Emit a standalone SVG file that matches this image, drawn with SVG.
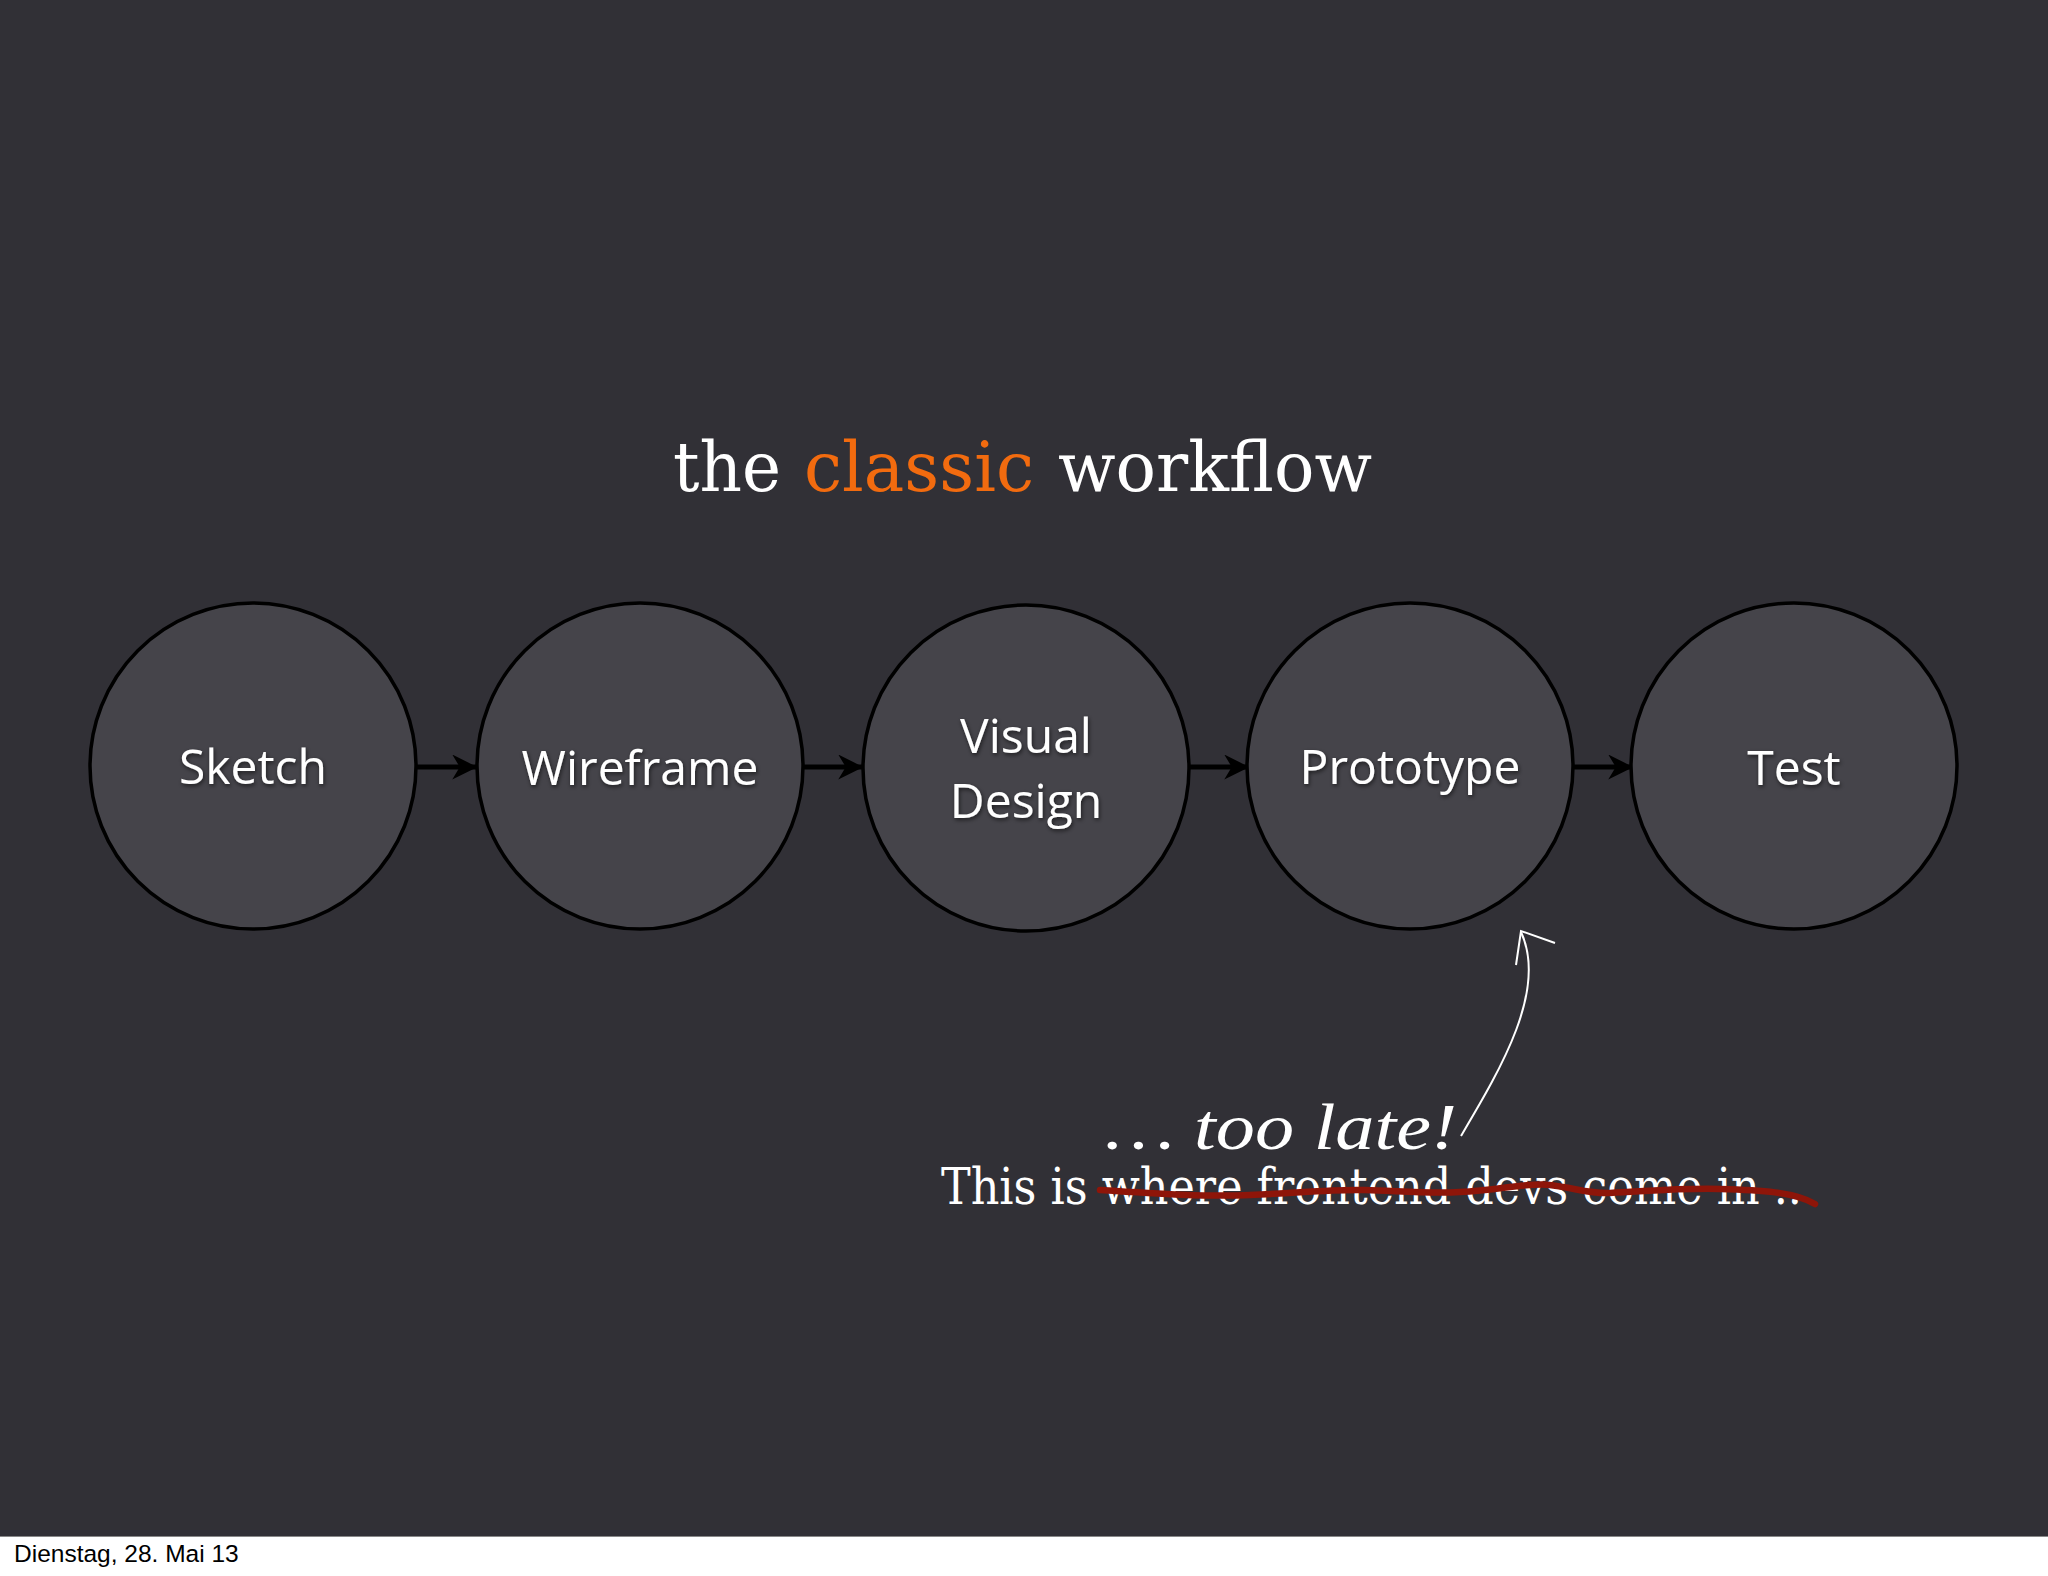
<svg xmlns="http://www.w3.org/2000/svg" width="2048" height="1576" viewBox="0 0 2048 1576">
<style>
.node{fill:#45444a;stroke:#000;stroke-width:3.5}
.lbl{font-family:"Open Sans","Noto Sans",sans-serif;font-size:48px;fill:#fff;text-anchor:middle;filter:url(#sh)}
.conn{stroke:#000;stroke-width:5;fill:none;marker-end:url(#ah)}
.slab{font-family:"DejaVu Serif","Liberation Serif",serif;fill:#fff}
</style>
<defs>
<marker id="ah" viewBox="0 0 10 10" refX="9.5" refY="5" markerWidth="5" markerHeight="5" markerUnits="strokeWidth" orient="auto">
<path d="M0,0 L10,5 L0,10 L3,5 Z" fill="#000"/>
</marker>
<filter id="sh" x="-20%" y="-20%" width="140%" height="140%">
<feDropShadow dx="1" dy="2" stdDeviation="2" flood-color="#000" flood-opacity="0.6"/>
</filter>
</defs>
<rect x="0" y="0" width="2048" height="1536" fill="#313036"/>
<rect x="0" y="1536" width="2048" height="40" fill="#fff"/>
<line x1="0" y1="1536.5" x2="2048" y2="1536.5" stroke="#888" stroke-width="1"/>
<text x="14" y="1562" font-family="Liberation Sans, Arial, sans-serif" font-size="24.5" fill="#000">Dienstag, 28. Mai 13</text>

<g id="title">
<text class="slab" x="673" y="491" textLength="108" lengthAdjust="spacingAndGlyphs" font-size="70">the</text>
<text class="slab" x="804" y="491" textLength="230" lengthAdjust="spacingAndGlyphs" font-size="70" style="fill:#f26b0f">classic</text>
<text class="slab" x="1058" y="491" textLength="314" lengthAdjust="spacingAndGlyphs" font-size="70">workflow</text>
</g>

<g id="connectors">
<line class="conn" x1="416" y1="767" x2="476" y2="767"/>
<line class="conn" x1="802" y1="767" x2="862" y2="767"/>
<line class="conn" x1="1188" y1="767" x2="1248" y2="767"/>
<line class="conn" x1="1573" y1="767" x2="1632" y2="767"/>
</g>

<g id="sketch"><circle class="node" cx="253" cy="766" r="163"/><text class="lbl" x="253" y="784">Sketch</text></g>
<g id="wireframe"><circle class="node" cx="640" cy="766" r="163"/><text class="lbl" x="640" y="785">Wireframe</text></g>
<g id="visual-design"><circle class="node" cx="1026" cy="768" r="163"/><text class="lbl" x="1026" y="753">Visual</text><text class="lbl" x="1026" y="818">Design</text></g>
<g id="prototype"><circle class="node" cx="1410" cy="766" r="163"/><text class="lbl" x="1410" y="784">Prototype</text></g>
<g id="test"><circle class="node" cx="1794" cy="766" r="163"/><text class="lbl" x="1794" y="785">Test</text></g>

<g id="note">
<text class="slab" x="941" y="1204" font-size="51" textLength="861" lengthAdjust="spacingAndGlyphs">This is where frontend devs come in ..</text>
<path d="M1100,1190 C1160,1194 1210,1197 1250,1195 C1300,1193 1330,1189 1365,1190 C1400,1191 1430,1194 1460,1192 C1500,1190 1530,1182 1550,1185 C1575,1188 1590,1194 1610,1193 C1650,1191 1680,1188 1720,1189 C1760,1190 1795,1192 1815,1204" fill="none" stroke="#8e1509" stroke-width="6.5" stroke-linecap="round"/>
<text x="1105" y="1149" font-family="Liberation Serif, serif" font-style="italic" font-size="66" fill="#fff" textLength="352" lengthAdjust="spacingAndGlyphs">… too late!</text>
<path d="M1461,1136 C1500,1070 1548,990 1521,932" fill="none" stroke="#fff" stroke-width="2"/>
<path d="M1555,943 L1521,931 L1516,965" fill="none" stroke="#fff" stroke-width="2"/>
</g>
</svg>
